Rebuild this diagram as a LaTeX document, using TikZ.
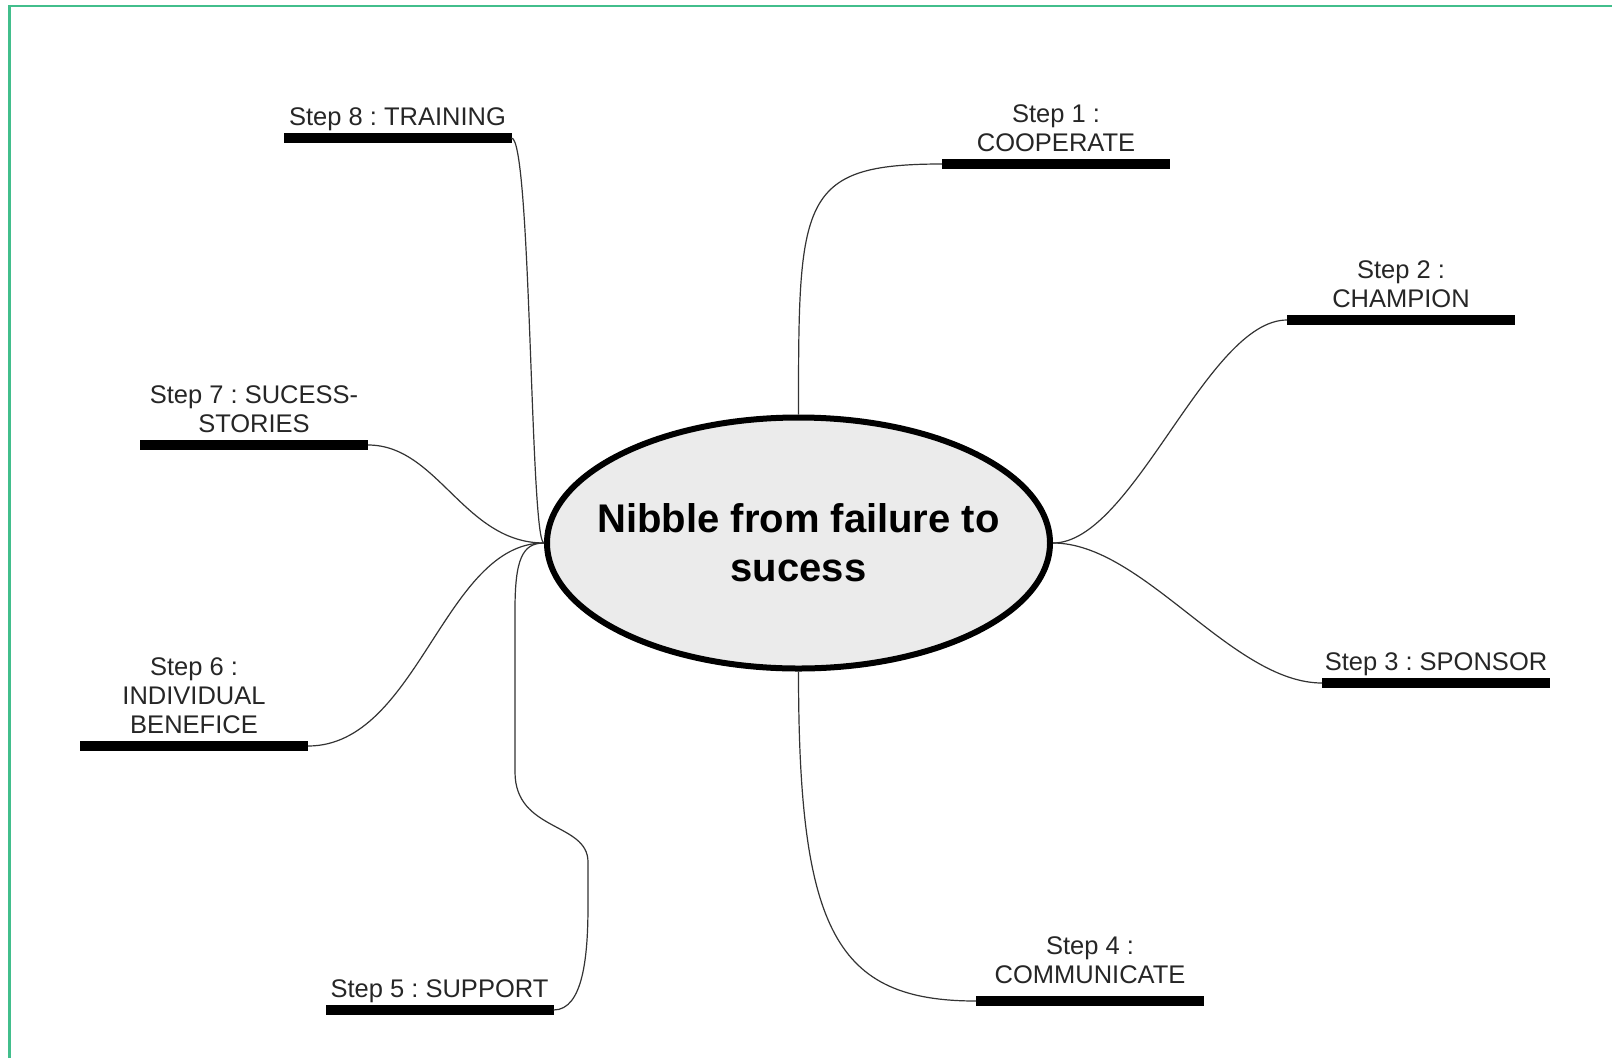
\documentclass[tikz,border=0pt]{standalone}
\usepackage{fontspec}
\setmainfont{Liberation Sans}
\usetikzlibrary{positioning,shapes.geometric}
\definecolor{framegreen}{RGB}{66,190,140}
\definecolor{hubgrey}{RGB}{235,235,235}
\frenchspacing

\begin{document}
\begin{tikzpicture}[x=1pt,y=-1pt,
		hub/.style={draw, ellipse, fill=hubgrey, line width=6pt, minimum width=503pt, minimum height=251pt, inner sep=0pt},
		hubtext/.style={font=\fontsize{40}{49}\selectfont\bfseries, align=center, inner sep=0pt},
		bar/.style={fill=black, minimum width=228pt, minimum height=10pt, inner sep=0pt, outer sep=0pt},
		steplabel/.style={font=\fontsize{25.5}{29}\selectfont, align=center, inner sep=0pt, text depth=5.5pt, text=black!85},
		link/.style={black!80, line width=1.2pt}]
			\useasboundingbox (0,0) rectangle (1612,1058);
			\draw[framegreen, line width=2.3pt] (9.5,1058) |- (1612,6);

			% centre
			\node[hub] (e) at (798.5,543) {};
			\node[hubtext] (title) at (e) {Nibble from failure to\\sucess};

			% bars
			\node[bar] (b1) at (1056,164) {};
			\node[bar] (b2) at (1401,320) {};
			\node[bar] (b3) at (1436,683) {};
			\node[bar] (b4) at (1090,1001) {};
			\node[bar] (b5) at (439.5,1010) {};
			\node[bar] (b6) at (194,746) {};
			\node[bar] (b7) at (254,445) {};
			\node[bar] (b8) at (397.5,138) {};

			% step labels
			\node[steplabel, above=1.5pt of b1] (s1) {Step 1 :\\COOPERATE};
			\node[steplabel, above=1.5pt of b2] (s2) {Step 2 :\\CHAMPION};
			\node[steplabel, above=1.5pt of b3] (s3) {Step 3 : SPONSOR};
			\node[steplabel, above=7pt of b4] (s4) {Step 4 :\\COMMUNICATE};
			\node[steplabel, above=1.5pt of b5] (s5) {Step 5 : SUPPORT};
			\node[steplabel, above=1.5pt of b6] (s6) {Step 6 :\\INDIVIDUAL\\BENEFICE};
			\node[steplabel, above=1.5pt of b7] (s7) {Step 7 : SUCESS-\\STORIES};
			\node[steplabel, above=1.5pt of b8] (s8) {Step 8 : TRAINING};

			% links on the right
			\draw[link] (e.north) .. controls +(0,-215) and +(-143,0) .. (b1.west);
			\draw[link] (e.east) .. controls +(80,0) and +(-80,0) .. (b2.west);
			\draw[link] (e.east) .. controls +(90,0) and +(-90,0) .. (b3.west);
			\draw[link] (e.south) .. controls +(0,260) and +(-140,0) .. (b4.west);

			% links on the left
			\draw[link] (b5.east) .. controls +(30,0) and +(0,50) .. (588,905) -- (588,862)
				.. controls (588,822) and (515,832) .. (515,772) -- (515,610)
				.. controls (515,560) and (522,543) .. (e.west);
			\draw[link] (b6.east) .. controls +(110,0) and +(-100,0) .. (e.west);
			\draw[link] (b7.east) .. controls +(70,0) and +(-80,0) .. (e.west);
			\draw[link] (b8.east) .. controls +(20,0) and +(-14,0) .. (e.west);

		\end{tikzpicture}
\end{document}
